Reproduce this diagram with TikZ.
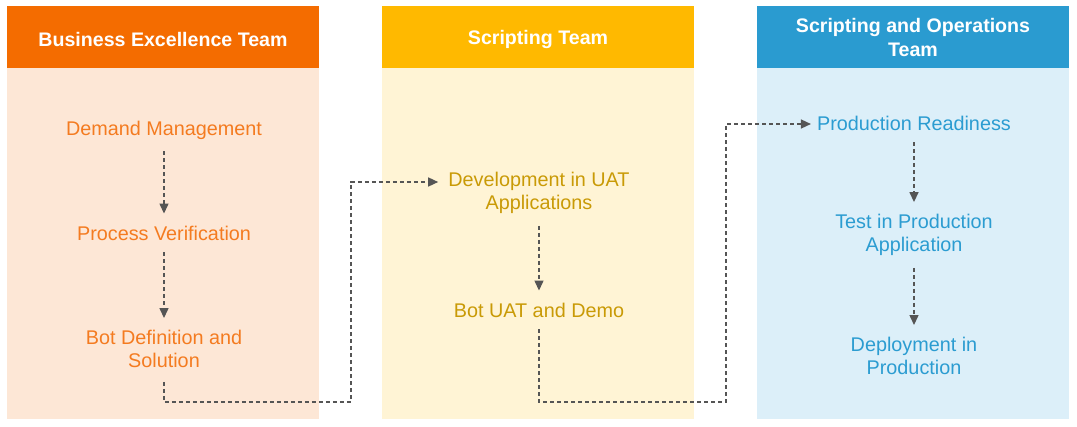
\documentclass[tikz,border=0pt]{standalone}
\usepackage{fontspec}
\setmainfont{Liberation Sans}
\usetikzlibrary{arrows.meta}
\definecolor{orHead}{HTML}{F46C00}
\definecolor{orBody}{HTML}{FDE7D6}
\definecolor{orText}{HTML}{F47B20}
\definecolor{yeHead}{HTML}{FFB900}
\definecolor{yeBody}{HTML}{FFF4D5}
\definecolor{yeText}{HTML}{C99A06}
\definecolor{blHead}{HTML}{2A9BD0}
\definecolor{blBody}{HTML}{DCEFF9}
\definecolor{blText}{HTML}{2B9CD1}
\definecolor{arrCol}{HTML}{555555}
\begin{document}
\begin{tikzpicture}[x=1pt,y=-1pt,
  headtxt/.style={text=white,font=\fontsize{19.6}{23.5}\selectfont\bfseries,align=center,inner sep=0pt},
  steptxt/.style={font=\fontsize{19.8}{23}\selectfont,align=center,inner sep=0pt},
  flow/.style={draw=arrCol,line width=1.4pt,dash pattern=on 4pt off 3pt,-{Triangle[length=10pt,width=9pt]}},
  inner/.style={flow,shorten <=12pt,shorten >=12pt}]
\useasboundingbox (0,0) rectangle (1077,426);
% columns
\fill[orBody] (7,68) rectangle (319,419);
\fill[orHead] (7,6) rectangle (319,68);
\fill[yeBody] (382,68) rectangle (694,419);
\fill[yeHead] (382,6) rectangle (694,68);
\fill[blBody] (757,68) rectangle (1069,419);
\fill[blHead] (757,6) rectangle (1069,68);
% headers
\node[headtxt] (h1) at (163,39) {Business Excellence Team};
\node[headtxt] (h2) at (538,39) {Scripting Team};
\node[headtxt] (h3) at (913,37.5) {Scripting and Operations\\Team};
% steps
\node[steptxt,text=orText] (n11) at (164,130) {Demand Management};
\node[steptxt,text=orText] (n12) at (164,233) {Process Verification};
\node[steptxt,text=orText] (n13) at (164,349) {Bot Definition and\\Solution};
\node[steptxt,text=yeText] (n21) at (539,193) {Development in UAT\\Applications};
\node[steptxt,text=yeText] (n22) at (539,310) {Bot UAT and Demo};
\node[steptxt,text=blText] (n31) at (914,123) {Production Readiness};
\node[steptxt,text=blText] (n32) at (914,235) {Test in Production\\Application};
\node[steptxt,text=blText] (n33) at (914,356) {Deployment in\\Production};
% inner arrows
\draw[inner] (n11) -- (n12);
\draw[inner] (n12) -- (n13);
\draw[inner] (n21) -- (n22);
\draw[inner] (n31) -- (n32);
\draw[inner] (n32) -- (n33);
% cross arrows
\coordinate (a1) at (351,402);
\coordinate (a2) at (351,182);
\draw[flow,shorten <=14pt,shorten >=10pt] (n13.south) |- (a1) -- (a2) -- (n21.west |- a2);
\coordinate (b1) at (726,402);
\coordinate (b2) at (726,124);
\draw[flow,shorten <=12pt,shorten >=6pt] (n22.south) |- (b1) -- (b2) -- (n31.west |- b2);
\end{tikzpicture}
\end{document}
